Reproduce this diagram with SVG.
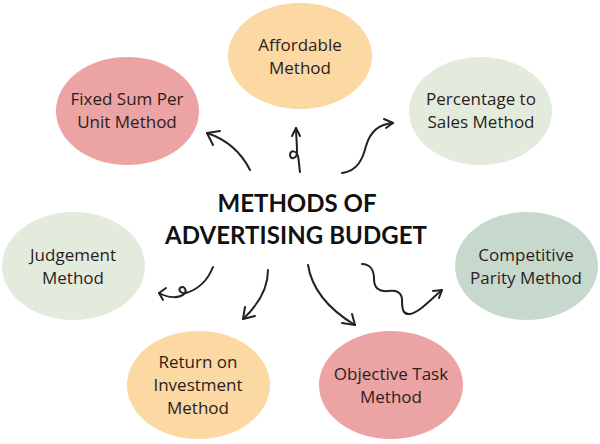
<svg xmlns="http://www.w3.org/2000/svg" width="600" height="444" viewBox="0 0 600 444">
<style>
.lbl{font-family:"Open Sans","Liberation Sans",sans-serif;font-size:17px;fill:#2b1d1d;text-anchor:middle}
.title{font-family:"Lato","Liberation Sans",sans-serif;font-weight:700;font-size:24px;fill:#111;text-anchor:middle}
.pink{fill:#eca3a4}
.peach{fill:#fcd8a3}
.lgreen{fill:#e3ebdd}
.dgreen{fill:#c6d9cc}
.arr{fill:none;stroke:#222;stroke-width:2;stroke-linecap:round;stroke-linejoin:round}
</style>
<rect width="600" height="444" fill="#fff"/>
<g id="title">
<text class="title" x="297" y="212" textLength="159" lengthAdjust="spacing">METHODS OF</text>
<text class="title" x="296" y="244" textLength="262" lengthAdjust="spacing">ADVERTISING BUDGET</text>
</g>
<g id="fixed-sum">
<ellipse class="pink" cx="127.5" cy="111" rx="71.5" ry="54"/>
<text class="lbl" x="127" y="105">Fixed Sum Per</text>
<text class="lbl" x="127" y="128">Unit Method</text>
</g>
<g id="affordable">
<ellipse class="peach" cx="300" cy="56" rx="72" ry="53"/>
<text class="lbl" x="300" y="51">Affordable</text>
<text class="lbl" x="300" y="74">Method</text>
</g>
<g id="percentage">
<ellipse class="lgreen" cx="480.5" cy="111" rx="71.5" ry="54"/>
<text class="lbl" x="481" y="105">Percentage to</text>
<text class="lbl" x="481" y="128">Sales Method</text>
</g>
<g id="judgement">
<ellipse class="lgreen" cx="73.5" cy="266" rx="71.5" ry="54"/>
<text class="lbl" x="73" y="261">Judgement</text>
<text class="lbl" x="73" y="284">Method</text>
</g>
<g id="competitive">
<ellipse class="dgreen" cx="526.5" cy="266" rx="71.5" ry="54"/>
<text class="lbl" x="526" y="261">Competitive</text>
<text class="lbl" x="526" y="284">Parity Method</text>
</g>
<g id="return">
<ellipse class="peach" cx="198.5" cy="385" rx="71.5" ry="54"/>
<text class="lbl" x="198" y="368">Return on</text>
<text class="lbl" x="198" y="391">Investment</text>
<text class="lbl" x="198" y="414">Method</text>
</g>
<g id="objective">
<ellipse class="pink" cx="391" cy="385" rx="72" ry="54"/>
<text class="lbl" x="391" y="380">Objective Task</text>
<text class="lbl" x="391" y="403">Method</text>
</g>
<g id="connectors" class="arr">
<path d="M250,170 C242,154 228,140 207,133"/>
<path d="M220,131 L207,133 L213,145"/>
<path d="M300,172 C299,165 299,160 298,156 C296,150 290,150 290,155 C290,160 297,159 297,152 C297,142 296,135 296,128"/>
<path d="M292,136 L296,128 L300,136"/>
<path d="M342,173 C358,171 363,158 366,146 C370,132 378,124 393,123"/>
<path d="M384,119 L393,123 L386,128"/>
<path d="M213,267 C207,282 196,290 186,293 C182,294 178,291 180,288 C183,285 187,289 185,293 C180,299 168,298 159,293"/>
<path d="M166,288 L159,293 L163,300"/>
<path d="M268,270 C268,290 258,305 243,319"/>
<path d="M245,307 L243,319 L255,316"/>
<path d="M308,265 C312,290 330,310 355,325"/>
<path d="M342,323 L355,325 L352,314"/>
<path d="M362,264 C370,264 374,270 374,279 C374,288 379,292 388,291 C396,290 402,292 402,300 C402,309 403,315 410,314 C420,312 430,300 442,290"/>
<path d="M433,291 L442,290 L439,298"/>
</g>
</svg>
